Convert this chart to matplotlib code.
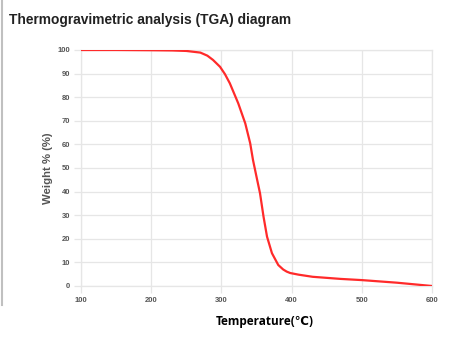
import matplotlib
matplotlib.use("Agg")
import matplotlib.pyplot as plt
from matplotlib.lines import Line2D

# TGA curve: temperature (°C) vs remaining weight (%)
temperature = [100, 150, 200, 230, 250, 270, 280, 288, 298, 305, 312, 324,
               334, 341, 345, 350, 355, 360, 365, 372, 381, 388, 393, 398,
               410, 430, 470, 500, 550, 600]
weight = [100, 100, 99.9, 99.8, 99.6, 98.9, 97.6, 95.8, 92.9, 89.8, 85.9, 77.4,
          68.9, 60.5, 53.4, 46.3, 39.3, 29.4, 20.9, 13.9, 8.9, 7.0, 6.1, 5.5,
          4.8, 3.9, 3.0, 2.5, 1.4, 0]

x_ticks = [100, 200, 300, 400, 500, 600]
y_ticks = [0, 10, 20, 30, 40, 50, 60, 70, 80, 90, 100]

W, H = 461, 338
fig = plt.figure(figsize=(W / 100, H / 100), dpi=100)
ax = fig.add_axes([81 / W, 52 / H, (432 - 81) / W, (286 - 50) / H])

ax.plot(temperature, weight, color="#ff2a2a", lw=1.6, solid_capstyle="round",
        solid_joinstyle="round", zorder=3)

ax.set_xlim(100, 600)
ax.set_ylim(0, 100)
ax.set_xticks(x_ticks)
ax.set_yticks(y_ticks)
ax.grid(True, color="#e6e6e6", lw=0.9)
ax.set_axisbelow(True)
for s in ax.spines.values():
    s.set_color("#e6e6e6")
    s.set_linewidth(0.9)
ax.tick_params(axis="both", length=5, width=0.9, color="#e6e6e6",
               labelsize=5.5, labelcolor="#555555", pad=3)
for lab in ax.get_xticklabels() + ax.get_yticklabels():
    lab.set_fontfamily("Liberation Sans")
    lab.set_fontweight("bold")

ax.set_ylabel("Weight % (%)", fontsize=8.2, color="#555555",
              family="Liberation Sans", fontweight="bold", labelpad=3)

fig.text(9 / W, 1 - 20 / H, "Thermogravimetric analysis (TGA) diagram",
         fontsize=9.95, fontweight="bold", color="#222222",
         family="Liberation Sans", ha="left", va="center")

fig.text(265 / W, 1 - 321 / H, "Temperature(℃)", fontsize=8.5,
         fontweight="bold", color="black",
         family=["Open Sans", "DejaVu Sans"], ha="center", va="center")

# page edge on the left
fig.add_artist(Line2D([1.5 / W, 1.5 / W], [1 - 305 / H, 1], color="#c0c0c0",
                      lw=1.5, transform=fig.transFigure))

fig.savefig("out.png", dpi=100)
